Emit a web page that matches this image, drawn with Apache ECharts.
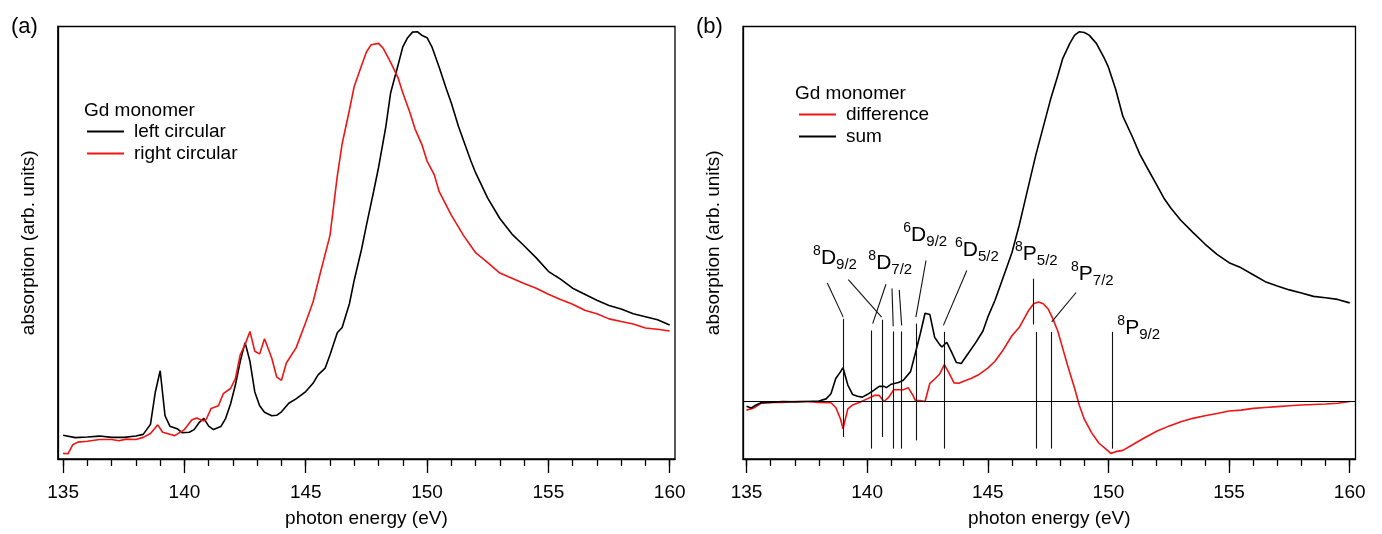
<!DOCTYPE html>
<html>
<head>
<meta charset="utf-8">
<script src="https://cdn.jsdelivr.net/npm/echarts@6/dist/echarts.min.js"></script>
<style>html,body{margin:0;padding:0;background:#fff;}#c{width:1382px;height:534px;}</style>
</head>
<body>
<div id="c"></div>
<script>
// ---------- data (arbitrary absorption units, 0 = bottom frame, 100 = top frame) ----------
const majorTicks = [135, 140, 145, 150, 155, 160];
const minorTicks = [135,136,137,138,139,140,141,142,143,144,145,146,147,148,149,150,151,152,153,154,155,156,157,158,159,160];

// panel (a): left circular
const leftE = [135,135.5,136,136.5,137,137.5,138,138.3,138.6,138.8,139,139.2,139.4,139.7,139.9,140.2,140.4,140.6,140.8,141,141.2,141.5,141.7,141.9,142.1,142.3,142.5,142.7,142.9,143.1,143.3,143.6,143.8,144,144.3,144.6,145,145.3,145.5,145.8,146,146.3,146.5,146.8,147,147.3,147.5,147.8,148,148.3,148.5,148.8,149,149.2,149.4,149.6,149.8,150,150.2,150.5,150.8,151,151.3,151.5,151.8,152,152.5,153,153.5,154,154.5,155,155.3,155.5,156,156.5,157,157.5,158,158.5,159,159.5,160];
const leftV = [5.5,4.95,5.1,5.3,5.0,5.0,5.3,5.7,8.0,15.5,20.4,10,7.6,7.0,6.1,6.2,6.8,8.4,9.4,7.6,6.8,7.5,9.4,12.7,17.1,22.6,26.9,22.6,15.5,12.3,10.8,10.0,10.1,10.9,12.9,13.9,15.6,17.5,19.4,21.0,24.1,29.2,30.4,35.9,41.4,48.5,54,61.9,67.4,76.8,84.7,91,95.3,97.4,98.7,98.8,97.9,97.4,95.3,90.6,85.5,82.3,76.8,73.7,69.0,66.2,60.3,55.6,52.0,49.3,46.5,43.4,42.3,41.6,39.5,38.1,36.7,35.5,34.7,33.6,32.9,32.2,31.0];

// panel (a): right circular
const rightE = [135,135.2,135.4,135.6,136,136.5,137,137.3,137.6,138,138.3,138.6,138.9,139.1,139.4,139.6,140,140.3,140.5,140.8,140.9,141.1,141.4,141.6,141.9,142.1,142.3,142.5,142.7,142.9,143.1,143.3,143.6,143.8,144,144.2,144.6,145,145.3,145.6,146,146.3,146.5,146.8,147,147.3,147.5,147.7,148,148.2,148.5,148.8,149,149.3,149.5,149.8,150,150.3,150.5,151,151.5,152,152.5,153,153.5,154,154.5,155,155.5,156,156.5,157,157.5,158,158.5,159,159.5,160];
const rightV = [1.3,1.2,3.3,3.9,4.1,4.5,4.5,4.2,4.6,4.5,5.0,5.9,7.9,6.2,5.7,5.4,6.8,9.0,9.5,8.8,9.2,11.7,12.3,15.1,16.3,18.6,24.1,26.5,29.5,24.9,24.3,27.8,23.3,19.0,18.2,22.2,25.7,31.6,36.3,43.0,51.7,65.4,72.9,80.7,86.2,91.0,94.1,95.8,96.1,94.9,91.7,88.2,84.7,80,76.4,72.5,68.9,65.7,61.8,56.4,51.7,47.7,45.4,43.0,41.8,40.6,39.5,38.1,36.9,35.8,34.4,33.6,32.4,31.8,31.2,30.3,30.0,29.6];

// panel (b): sum
const sumE = [135,135.2,135.4,135.6,136,136.5,137,137.5,138,138.3,138.5,138.7,138.9,139,139.2,139.4,139.6,139.8,140,140.2,140.5,140.7,140.8,141,141.3,141.5,141.8,142,142.2,142.4,142.6,142.8,143,143.1,143.3,143.5,143.7,143.9,144.1,144.5,144.8,145,145.3,145.6,146,146.3,146.5,146.8,147,147.3,147.6,147.9,148.1,148.4,148.6,148.8,149,149.2,149.5,149.8,150,150.3,150.6,151,151.3,151.6,152,152.3,152.6,153,153.5,154,154.5,155,155.5,156,156.5,157,157.5,158,158.5,159,159.5,160];
const sumV = [12.2,11.8,12.5,13.0,13.1,13.3,13.2,13.3,13.4,13.9,15.1,18.6,20.2,21.1,17.1,14.9,14.5,14.3,14.9,15.6,16.8,16.8,16.5,17.3,17.7,18.2,20.2,24.5,28.9,33.7,33.4,28.1,26.5,25.9,27.0,24.7,22.3,22.1,23.7,26.9,29.6,32.8,36.7,41.4,47.7,54,58.7,65.8,70.5,76.8,83.1,88.6,92.5,96.1,98.0,98.8,98.6,98,96.1,93.0,90.6,85.5,79.2,74.4,70.5,67.4,63.4,60.3,57.9,55.2,52.4,49.7,47.3,45.4,44.2,42.6,41.0,40.0,39.1,38.4,37.6,37.3,36.9,36.1];

// panel (b): difference
const diffE = [135,135.3,135.6,136,136.5,137,137.5,138,138.5,138.7,138.9,139,139.2,139.4,139.7,140,140.3,140.5,140.7,140.9,141.1,141.3,141.5,141.7,141.9,142,142.2,142.4,142.6,142.8,143,143.2,143.4,143.6,143.8,144,144.3,144.6,145,145.3,145.6,146,146.3,146.5,146.7,146.9,147.1,147.3,147.5,147.7,147.9,148.1,148.3,148.6,148.8,149,149.3,149.6,149.9,150.1,150.3,150.6,151,151.5,152,152.5,153,153.5,154,154.5,155,155.5,156,156.5,157,157.5,158,158.5,159,159.5,160];
const diffV = [11.3,11.8,12.9,13.1,13.1,13.3,13.3,13.1,13.0,11.9,9.2,7.0,11.6,12.5,13.1,13.9,14.7,14.7,13.3,14.3,16.0,16.0,16.0,16.5,14.7,13.5,13.5,13.3,17.5,18.5,19.6,21.8,19.8,17.6,17.5,18.0,18.6,19.4,21.0,22.6,24.9,28.5,30.4,32.4,34.4,35.9,36.3,35.9,34.7,32.4,29.6,25.7,21.8,16.3,12.3,9.2,6.1,3.7,2.3,1.3,1.7,2.0,3.3,4.9,6.4,7.6,8.6,9.4,10.0,10.5,11.1,11.3,11.7,11.9,12.1,12.3,12.5,12.6,12.7,12.9,13.3];

const diffBaseline = 13.3;

// term labels in panel (b)
const termSup  = ['8','8','6','6','8','8','8'];
const termMain = ['D','D','D','D','P','P','P'];
const termSub  = ['9/2','7/2','9/2','5/2','5/2','7/2','9/2'];
const termE    = [137.76,140.05,141.50,143.64,146.13,148.45,150.37];
const termV    = [46.4,45.2,51.7,48.2,47.4,42.7,30.2];

// marker lines [e1,v1,e2,v2]
const markerSegs = [
  [139.01,32.4,139.01,5.1],[140.64,32.2,140.64,5.1],[140.16,29.7,140.16,2.4],
  [141.08,29.5,141.08,2.4],[141.43,29.5,141.43,2.4],[142.02,31.3,142.02,4.3],
  [143.20,29.4,143.20,2.4],[146.89,41.7,146.89,31.1],[147.0,29.4,147.0,2.4],
  [147.65,29.4,147.65,2.4],[150.15,29.4,150.15,2.4],
  [138.35,40.7,139.01,32.8],[139.22,41.5,140.60,32.8],[140.78,40.4,140.23,31.3],
  [141.03,39.4,141.08,30.7],[141.33,39.1,141.43,30.9],[142.44,45.9,142.02,32.8],
  [144.13,43.6,143.16,30.9],[148.66,38.5,147.65,31.7]
];

// ---------- chart ----------
const FONT = 'Liberation Sans, Arial, Helvetica, sans-serif';
const RED = '#f01414';
const INK = '#000';
const pairs = (xs, ys) => xs.map((x, i) => [x, ys[i]]);

const ranges = [[134.78, 160.22], [134.855, 160.24]];

function majorAxis(g) {
  return {
    type: 'value', gridIndex: g, position: 'bottom', min: ranges[g][0], max: ranges[g][1],
    name: 'photon energy (eV)', nameLocation: 'middle', nameGap: 50,
    nameTextStyle: {fontFamily: FONT, fontSize: 19, color: INK},
    axisLine: {show: true, lineStyle: {color: '#000', width: 1.3}},
    axisTick: {show: true, inside: false, length: 14, customValues: majorTicks, lineStyle: {color: '#000', width: 1.3}},
    axisLabel: {show: true, margin: 24, customValues: majorTicks, fontFamily: FONT, fontSize: 19, color: INK},
    splitLine: {show: false}
  };
}
function minorAxis(g) {
  return {
    type: 'value', gridIndex: g, position: 'bottom', min: ranges[g][0], max: ranges[g][1],
    axisLine: {show: false},
    axisTick: {show: true, inside: false, length: 7, customValues: minorTicks, lineStyle: {color: '#000', width: 1.3}},
    axisLabel: {show: false},
    splitLine: {show: false}
  };
}
function yAxis(g) {
  return {
    type: 'value', gridIndex: g, min: 0, max: 100,
    name: 'absorption (arb. units)', nameLocation: 'middle', nameGap: 20,
    nameTextStyle: {fontFamily: FONT, fontSize: 19, color: INK},
    axisLine: {show: true, lineStyle: {color: '#000', width: 1.3}},
    axisTick: {show: false}, axisLabel: {show: false}, splitLine: {show: false}
  };
}

const lineSeries = (name, xs, ys, color, xi, yi) => ({
  name, type: 'line', xAxisIndex: xi, yAxisIndex: yi, data: pairs(xs, ys),
  symbol: 'none', smooth: false, lineStyle: {color, width: 1.6}, itemStyle: {color}, z: 3
});

const option = {
  animation: false,
  backgroundColor: '#fff',
  textStyle: {fontFamily: FONT},
  grid: [
    {left: 57.8, right: 1382 - 675, top: 26.5, bottom: 534 - 459, show: true, borderColor: '#000', borderWidth: 1.3, backgroundColor: 'transparent'},
    {left: 743, right: 1382 - 1355.5, top: 26.5, bottom: 534 - 459, show: true, borderColor: '#000', borderWidth: 1.3, backgroundColor: 'transparent'}
  ],
  xAxis: [majorAxis(0), minorAxis(0), majorAxis(1), minorAxis(1)],
  yAxis: [yAxis(0), yAxis(1)],
  title: [
    {text: '(a)', left: 6, top: 11, textStyle: {fontFamily: FONT, fontSize: 22, fontWeight: 'normal', color: INK}},
    {text: '(b)', left: 691, top: 11, textStyle: {fontFamily: FONT, fontSize: 22, fontWeight: 'normal', color: INK}},
    {text: 'Gd monomer', left: 84, top: 101, padding: 0, textStyle: {fontFamily: FONT, fontSize: 19, fontWeight: 'normal', color: INK}},
    {text: 'Gd monomer', left: 795, top: 84, padding: 0, textStyle: {fontFamily: FONT, fontSize: 19, fontWeight: 'normal', color: INK}}
  ],
  legend: [
    {data: ['left circular', 'right circular'], left: 87, top: 122, orient: 'vertical', padding: 0,
     icon: 'rect', itemWidth: 37, itemHeight: 2, itemGap: 3,
     textStyle: {fontFamily: FONT, fontSize: 19, color: INK, padding: [0, 0, 0, 5]}},
    {data: ['difference', 'sum'], left: 799, top: 105, orient: 'vertical', padding: 0,
     icon: 'rect', itemWidth: 37, itemHeight: 2, itemGap: 3,
     textStyle: {fontFamily: FONT, fontSize: 19, color: INK, padding: [0, 0, 0, 5]}}
  ],
  series: [
    lineSeries('left circular', leftE, leftV, '#000', 0, 0),
    lineSeries('right circular', rightE, rightV, RED, 0, 0),
    Object.assign(lineSeries('difference', diffE, diffV, RED, 2, 1), {
      markLine: {
        silent: true, symbol: 'none', animation: false,
        label: {show: false},
        lineStyle: {color: '#000', width: 1.2, type: 'solid'},
        data: [{yAxis: diffBaseline}]
      }
    }),
    lineSeries('sum', sumE, sumV, '#000', 2, 1),
    {
      name: 'terms', type: 'scatter', xAxisIndex: 2, yAxisIndex: 1,
      symbolSize: 0, silent: true, itemStyle: {color: '#000', opacity: 1},
      data: termE.map((e, i) => ({value: [e, termV[i]], sup: termSup[i], main: termMain[i], sub: termSub[i]})),
      label: {
        show: true, position: 'inside', align: 'left', verticalAlign: 'middle',
        color: INK, opacity: 1, textBorderWidth: 0, textShadowBlur: 0,
        formatter: p => '{sup|' + p.data.sup + '}{main|' + p.data.main + '}{sub|' + p.data.sub + '}',
        rich: {
          sup: {fontFamily: FONT, fontSize: 14, color: INK, textBorderWidth: 0, verticalAlign: 'top', lineHeight: 8},
          main: {fontFamily: FONT, fontSize: 21, color: INK, textBorderWidth: 0, lineHeight: 28},
          sub: {fontFamily: FONT, fontSize: 15, color: INK, textBorderWidth: 0, verticalAlign: 'bottom', lineHeight: 12}
        }
      },
      markLine: {
        silent: true, symbol: 'none', animation: false,
        label: {show: false},
        lineStyle: {color: '#111', width: 1.1, type: 'solid'},
        data: markerSegs.map(s => [{coord: [s[0], s[1]]}, {coord: [s[2], s[3]]}])
      },
      z: 4
    }
  ]
};

const chart = echarts.init(document.getElementById('c'), null, {renderer: 'canvas'});
chart.setOption(option);
</script>
</body>
</html>
